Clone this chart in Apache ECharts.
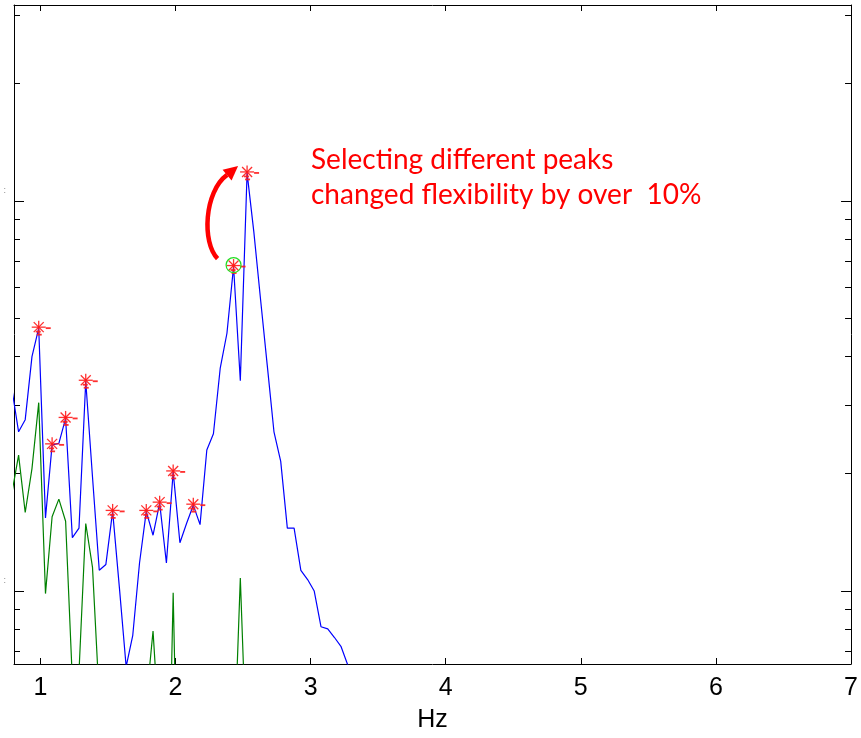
<!DOCTYPE html>
<html><head><meta charset="utf-8">
<script src="https://cdn.jsdelivr.net/npm/echarts@6/dist/echarts.min.js"></script>
<style>html,body{margin:0;padding:0;background:#fff}#c{width:861px;height:738px}</style>
</head><body><div id="c"></div>
<script>
// ---- data ----
const freqHz = [0.789,0.839,0.888,0.938,0.988,1.038,1.087,1.137,1.187,1.237,1.286,1.336,1.386,1.436,1.485,1.535,1.585,1.635,1.684,1.734,1.784,1.834,1.883,1.933,1.983,2.033,2.082,2.132,2.182,2.232,2.281,2.331,2.381,2.430,2.480,2.530,2.580,2.630,2.679,2.729,2.779,2.828,2.878,2.928,2.978,3.027,3.077,3.127,3.177,3.226,3.276,3.326];
const blueAmp = [3.3,2.56,2.75,3.99,4.72,1.54,2.37,2.39,2.77,1.37,1.45,3.45,1.96,1.13,1.17,1.60,1.02,0.64,0.77,1.18,1.60,1.39,1.68,1.18,2.02,1.33,1.49,1.66,1.48,2.30,2.53,3.72,4.58,6.79,3.46,11.8,8.33,5.58,3.80,2.56,2.15,1.45,1.45,1.13,1.07,1.00,0.81,0.80,0.76,0.72,0.645,0.5];
const greenAmp = [1.78,2.23,1.59,2.06,3.04,0.985,1.55,1.72,1.51,0.59,0.62,1.49,1.15,0.53,0.3,0.25,0.3,0.22,0.28,0.3,0.52,0.79,0.42,0.15,0.99,0.15,0.25,0.3,0.2,0.25,0.3,0.22,0.25,0.35,1.08,0.35,0.25,0.2,0.3,0.25,0.2,0.22,0.3,0.2,0.25,0.2,0.22,0.25,0.2,0.22,0.2,0.2];
const peakIdx = [4,6,8,11,15,20,22,24,27,33,35];
const circledPeak = 33;
const chosenPeak = 35;
const xTicks = [1,2,3,4,5,6,7];
const yMajor = [1,10];
const yMinor = [0.7,0.8,0.9,2,3,4,5,6,7,8,9,20,30];
const xName = 'Hz';
const noteLines = ['Selecting different peaks','changed flexibility by over  10%'];
const X_MIN = 0.805, X_MAX = 7.0, Y_MIN = 0.65, Y_MAX = 31.8;

// ---- build ----
const lg = v => Math.log10(v);
const blueData = freqHz.map((f,i)=>[f, blueAmp[i]]);
const greenData = freqHz.map((f,i)=>[f, greenAmp[i]]);
const peakData = peakIdx.map(i=>[freqHz[i], blueAmp[i]]);
const RED = '#ff1a1a';

function starItem(params, api){
  const p = api.coord([api.value(0), api.value(1)]);
  const x=p[0], y=p[1]-1;
  const L=(x1,y1,x2,y2,w)=>({type:'line',shape:{x1:x+x1,y1:y+y1,x2:x+x2,y2:y+y2},style:{stroke:RED,lineWidth:w||1.3,opacity:0.9}});
  return {type:'group',children:[
    L(-7,0,7,0),L(0,-6.5,0,6.5),L(-5,-5,5,5),L(-5,5,5,-5),
    L(7,1,12,1,1.8),L(-3,4.5,2,4.5,1.8),L(-2,7.5,3,7.5,1.8)
  ]};
}
function circleItem(params, api){
  const p = api.coord([api.value(0), api.value(1)]);
  return {type:'circle',shape:{cx:p[0],cy:p[1]-1.5,r:7.5},style:{fill:'none',stroke:'#22dd22',lineWidth:1.2}};
}
function arrowItem(params, api){
  const a = api.coord([api.value(0), api.value(1)]);
  const b = api.coord([api.value(2), api.value(3)]);
  const s=[a[0]-16,a[1]-8], c1=[a[0]-31.7,a[1]-23.7], c2=[b[0]-43,b[1]+18.7], e=[b[0]-20,b[1]+2];
  const tip=[b[0]-9,b[1]-7], b1=[b[0]-15.5,b[1]+7.5], b2=[b[0]-24.5,b[1]-3.3];
  return {type:'group',children:[
    {type:'bezierCurve',shape:{x1:s[0],y1:s[1],cpx1:c1[0],cpy1:c1[1],cpx2:c2[0],cpy2:c2[1],x2:e[0],y2:e[1]},style:{stroke:'#ff0000',lineWidth:4.5,fill:'none'}},
    {type:'polygon',shape:{points:[tip,b1,b2]},style:{fill:'#ff0000'}}
  ]};
}

const tickFont = {fontFamily:'Liberation Sans Narrow, Liberation Sans, Arial', fontSize:25, color:'#000'};
const yLo = lg(Y_MIN), yHi = lg(Y_MAX);
function helperY(pos, vals, len, labels){
  return {type:'value', min:yLo, max:yHi, position:pos, axisLine:{show:false},
    axisTick:{show:true, inside:true, length:len, customValues:vals.map(lg), lineStyle:{color:'#000',width:1}},
    axisLabel: labels ? {show:true, customValues:vals.map(lg), formatter:()=>':', fontSize:9, color:'#888', margin:8, verticalAlign:'bottom', padding:[0,0,6,0]} : {show:false},
    splitLine:{show:false}};
}

const chart = echarts.init(document.getElementById('c'), null, {renderer:'canvas'});
chart.setOption({
  animation:false,
  backgroundColor:'#fff',
  grid:{left:14, right:7, top:5, bottom:74, containLabel:false},
  xAxis:[
    {type:'value', min:X_MIN, max:X_MAX, position:'bottom',
     axisLine:{show:true, onZero:false, lineStyle:{color:'#000',width:1}},
     axisTick:{show:true, inside:true, length:6, customValues:xTicks, lineStyle:{color:'#000'}},
     axisLabel:Object.assign({customValues:xTicks, margin:12}, tickFont),
     splitLine:{show:false},
     name:xName, nameLocation:'middle', nameGap:44,
     nameTextStyle:{fontFamily:'Liberation Sans Narrow, Liberation Sans, Arial', fontSize:25, color:'#000'}},
    {type:'value', min:X_MIN, max:X_MAX, position:'top',
     axisLine:{show:true, onZero:false, lineStyle:{color:'#000',width:1}},
     axisTick:{show:true, inside:true, length:6, customValues:xTicks, lineStyle:{color:'#000'}},
     axisLabel:{show:false}, splitLine:{show:false}}
  ],
  yAxis:[
    {type:'log', logBase:10, min:Y_MIN, max:Y_MAX, position:'left',
     axisLine:{show:true, lineStyle:{color:'#000',width:1}}, axisTick:{show:false}, axisLabel:{show:false}, splitLine:{show:false}},
    helperY('left', yMajor, 10, true),
    helperY('left', yMinor, 6, false),
    {type:'log', logBase:10, min:Y_MIN, max:Y_MAX, position:'right',
     axisLine:{show:true, lineStyle:{color:'#000',width:1}}, axisTick:{show:false}, axisLabel:{show:false}, splitLine:{show:false}},
    helperY('right', yMajor, 10, false),
    helperY('right', yMinor, 6, false)
  ],
  series:[
    {type:'line', data:greenData, xAxisIndex:0, yAxisIndex:0, showSymbol:false, clip:true,
     lineStyle:{color:'#008000', width:1.2}, z:2},
    {type:'line', data:blueData, xAxisIndex:0, yAxisIndex:0, showSymbol:false, clip:true,
     lineStyle:{color:'#0000ff', width:1.2}, z:3},
    {type:'custom', data:peakData, xAxisIndex:0, yAxisIndex:0, renderItem:starItem, z:5, encode:{x:0,y:1}},
    {type:'custom', data:[[freqHz[circledPeak], blueAmp[circledPeak]]], xAxisIndex:0, yAxisIndex:0, renderItem:circleItem, z:6, encode:{x:0,y:1}},
    {type:'custom', data:[[freqHz[circledPeak], blueAmp[circledPeak], freqHz[chosenPeak], blueAmp[chosenPeak]]],
     xAxisIndex:0, yAxisIndex:0, renderItem:arrowItem, z:7, encode:{x:[0,2],y:[1,3]}}
  ],
  graphic:[
    {type:'text', left:311, top:146, style:{text:noteLines[0], fill:'#ff0000', font:'28px Lato, "Open Sans", sans-serif'}},
    {type:'text', left:311, top:181, style:{text:noteLines[1], fill:'#ff0000', font:'28px Lato, "Open Sans", sans-serif'}}
  ]
});
</script></body></html>
